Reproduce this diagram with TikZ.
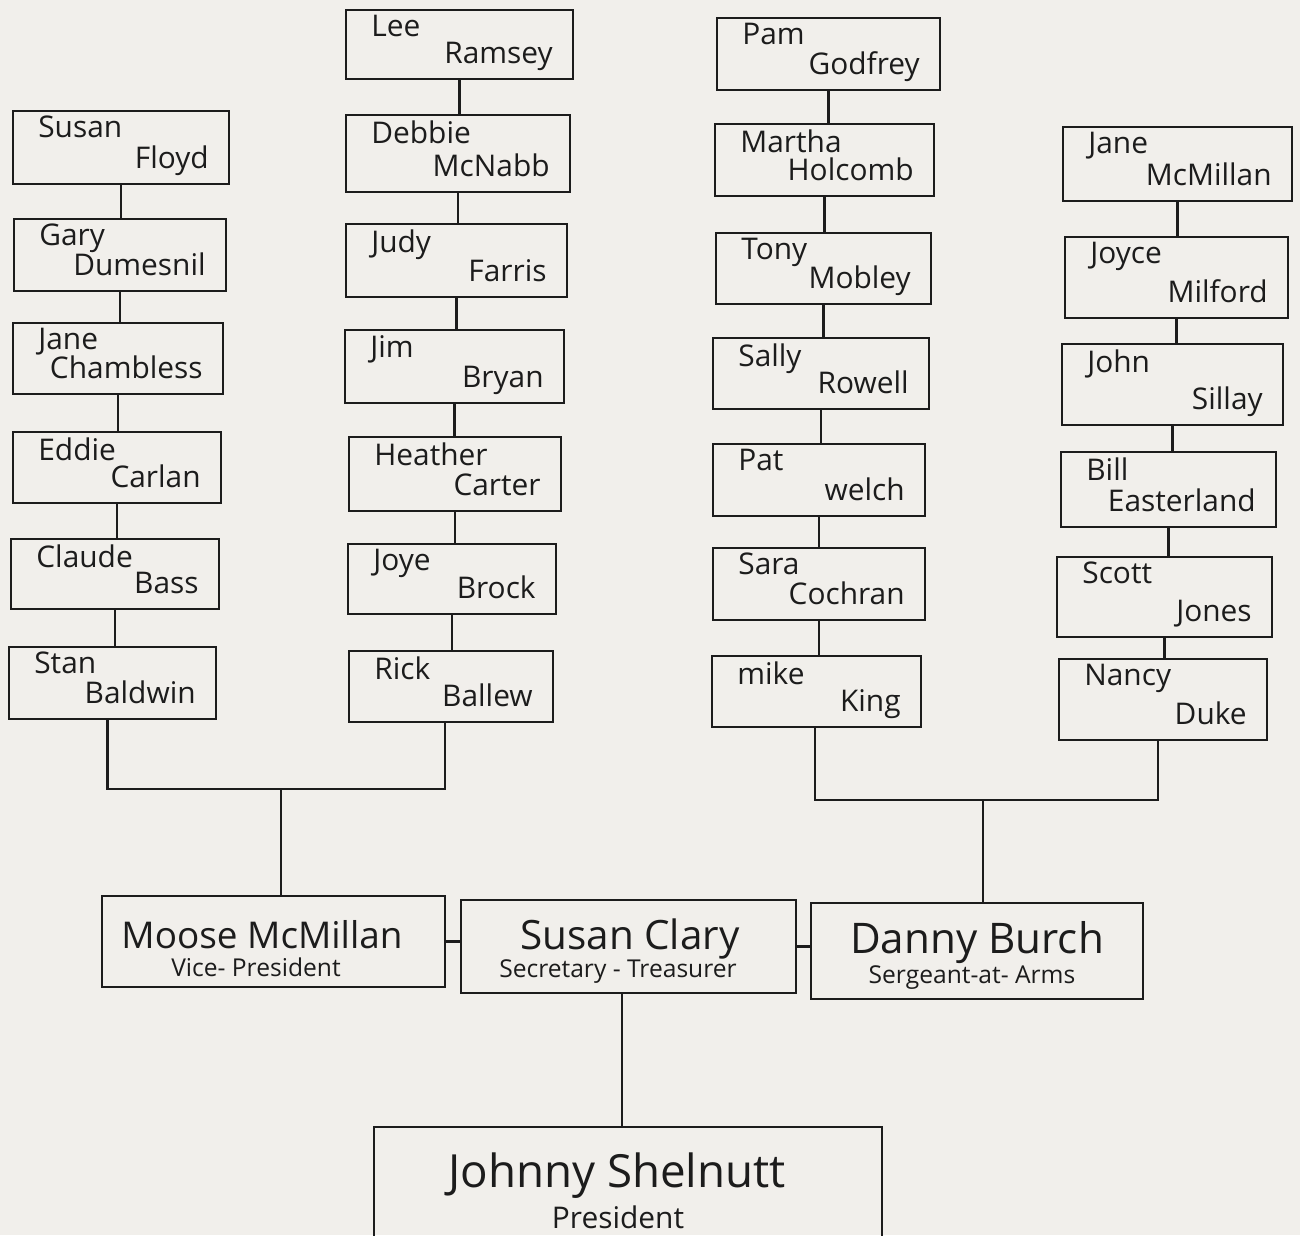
\documentclass[tikz,border=0pt]{standalone}
\usepackage{fontspec}
\setmainfont{Open Sans}
\definecolor{ink}{RGB}{28,28,28}
\definecolor{paper}{RGB}{241,239,235}
\tikzset{
  box/.style={draw=ink, line width=1.4pt, inner sep=0pt, outer sep=0pt},
  nm/.style={text=ink, inner sep=0pt, font=\fontsize{17}{20}\selectfont},
  big/.style={text=ink, inner sep=0pt},
  sub/.style={text=ink, inner sep=0pt, font=\fontsize{14}{16}\selectfont},
  link/.style={draw=ink, line width=1.4pt}
}
\newcommand{\pbox}[7]{%
  \node[box, minimum width={(#4-#2)*0.02cm}, minimum height={(#5-#3)*0.02cm}] (#1) at ({(#2+#4)/2},{(#3+#5)/2}) {};
  \node[nm, anchor=north west] (#1-f) at ([xshift=0.5cm,yshift=-0.1cm]#1.north west) {#6};
  \node[nm, anchor=base east] (#1-l) at ([xshift=-0.4cm,yshift=0.32cm]#1.south east) {#7};
}
\begin{document}
\begin{tikzpicture}[x=0.02cm, y=-0.02cm]
\clip (0,0) rectangle (1300,1235);
\fill[paper] (0,0) rectangle (1300,1235);

% column 1
\pbox{c1a}{13}{111}{229}{184}{Susan}{Floyd}
\pbox{c1b}{14}{219}{226}{291}{Gary}{Dumesnil}
\pbox{c1c}{13}{323}{223}{394}{Jane}{Chambless}
\pbox{c1d}{13}{432}{221}{503}{Eddie}{Carlan}
\pbox{c1e}{11}{539}{219}{609}{Claude}{Bass}
\pbox{c1f}{9}{647}{216}{719}{Stan}{Baldwin}
% column 2
\pbox{c2a}{346}{10}{573}{79}{Lee}{Ramsey}
\pbox{c2b}{346}{115}{570}{192}{Debbie}{McNabb}
\pbox{c2c}{346}{224}{567}{297}{Judy}{Farris}
\pbox{c2d}{345}{330}{564}{403}{Jim}{Bryan}
\pbox{c2e}{349}{437}{561}{511}{Heather}{Carter}
\pbox{c2f}{348}{544}{556}{614}{Joye}{Brock}
\pbox{c2g}{349}{651}{553}{722}{Rick}{Ballew}
% column 3
\pbox{c3a}{717}{18}{940}{90}{Pam}{Godfrey}
\pbox{c3b}{715}{124}{934}{196}{Martha}{Holcomb}
\pbox{c3c}{716}{233}{931}{304}{Tony}{Mobley}
\pbox{c3d}{713}{338}{929}{409}{Sally}{Rowell}
\pbox{c3e}{713}{444}{925}{516}{Pat}{welch}
\pbox{c3f}{713}{548}{925}{620}{Sara}{Cochran}
\pbox{c3g}{712}{656}{921}{727}{mike}{King}
% column 4
\pbox{c4a}{1063}{127}{1292}{201}{Jane}{McMillan}
\pbox{c4b}{1065}{237}{1288}{318}{Joyce}{Milford}
\pbox{c4c}{1062}{344}{1283}{425}{John}{Sillay}
\pbox{c4d}{1061}{452}{1276}{527}{Bill}{Easterland}
\pbox{c4e}{1057}{557}{1272}{637}{Scott}{Jones}
\pbox{c4f}{1059}{659}{1267}{740}{Nancy}{Duke}

% column links
\foreach \a/\b in {c1a/c1b,c1b/c1c,c1c/c1d,c1d/c1e,c1e/c1f,
                   c2a/c2b,c2b/c2c,c2c/c2d,c2d/c2e,c2e/c2f,c2f/c2g,
                   c3a/c3b,c3b/c3c,c3c/c3d,c3d/c3e,c3e/c3f,c3f/c3g,
                   c4a/c4b,c4b/c4c,c4c/c4d,c4d/c4e,c4e/c4f}
  \draw[link] (\a.south) -- (\a.south |- \b.north);

% officers
\node[box, minimum width={343*0.02cm}, minimum height={91*0.02cm}] (moose) at (273.5,941.5) {};
\node[big, font=\fontsize{21}{24}\selectfont] (moose-n) at (262,935) {Moose McMillan};
\node[sub] (moose-t) at (256,967) {Vice- President};

\node[box, minimum width={335*0.02cm}, minimum height={93*0.02cm}] (susan) at (628.5,946.5) {};
\node[big, font=\fontsize{23}{26}\selectfont] (susan-n) at (630,939) {Susan Clary};
\node[sub] (susan-t) at (618,972) {Secretary - Treasurer};

\node[box, minimum width={332*0.02cm}, minimum height={96*0.02cm}] (danny) at (977,951) {};
\node[big, font=\fontsize{24}{27}\selectfont] (danny-n) at (977,943) {Danny Burch};
\node[sub] (danny-t) at (972,978) {Sergeant-at- Arms};

\node[box, minimum width={508*0.02cm}, minimum height={133*0.02cm}] (johnny) at (628,1193.5) {};
\node[big, font=\fontsize{26}{30}\selectfont] (johnny-n) at (617,1176) {Johnny Shelnutt};
\node[big, font=\fontsize{17}{20}\selectfont] (johnny-t) at (618,1217) {President};

% junctions
\coordinate (j1) at (281,789);
\coordinate (j2) at (983,800);
\draw[link] ([xshift=-0.1cm]c1f.south) |- (j1) -| ([xshift=-0.12cm]c2g.south);
\draw[link] (j1) -- (j1 |- moose.north);
\draw[link] ([xshift=-0.03cm]c3g.south) |- (j2) -| ([xshift=-0.1cm]c4f.south);
\draw[link] (j2) -- (j2 |- danny.north);
\draw[link] (moose.east) -- (moose.east -| susan.west);
\draw[link] (susan.east) -- (susan.east -| danny.west);
\draw[link] ([xshift=-0.13cm]susan.south) -- ([xshift=-0.13cm]susan.south |- johnny.north);
\end{tikzpicture}
\end{document}
